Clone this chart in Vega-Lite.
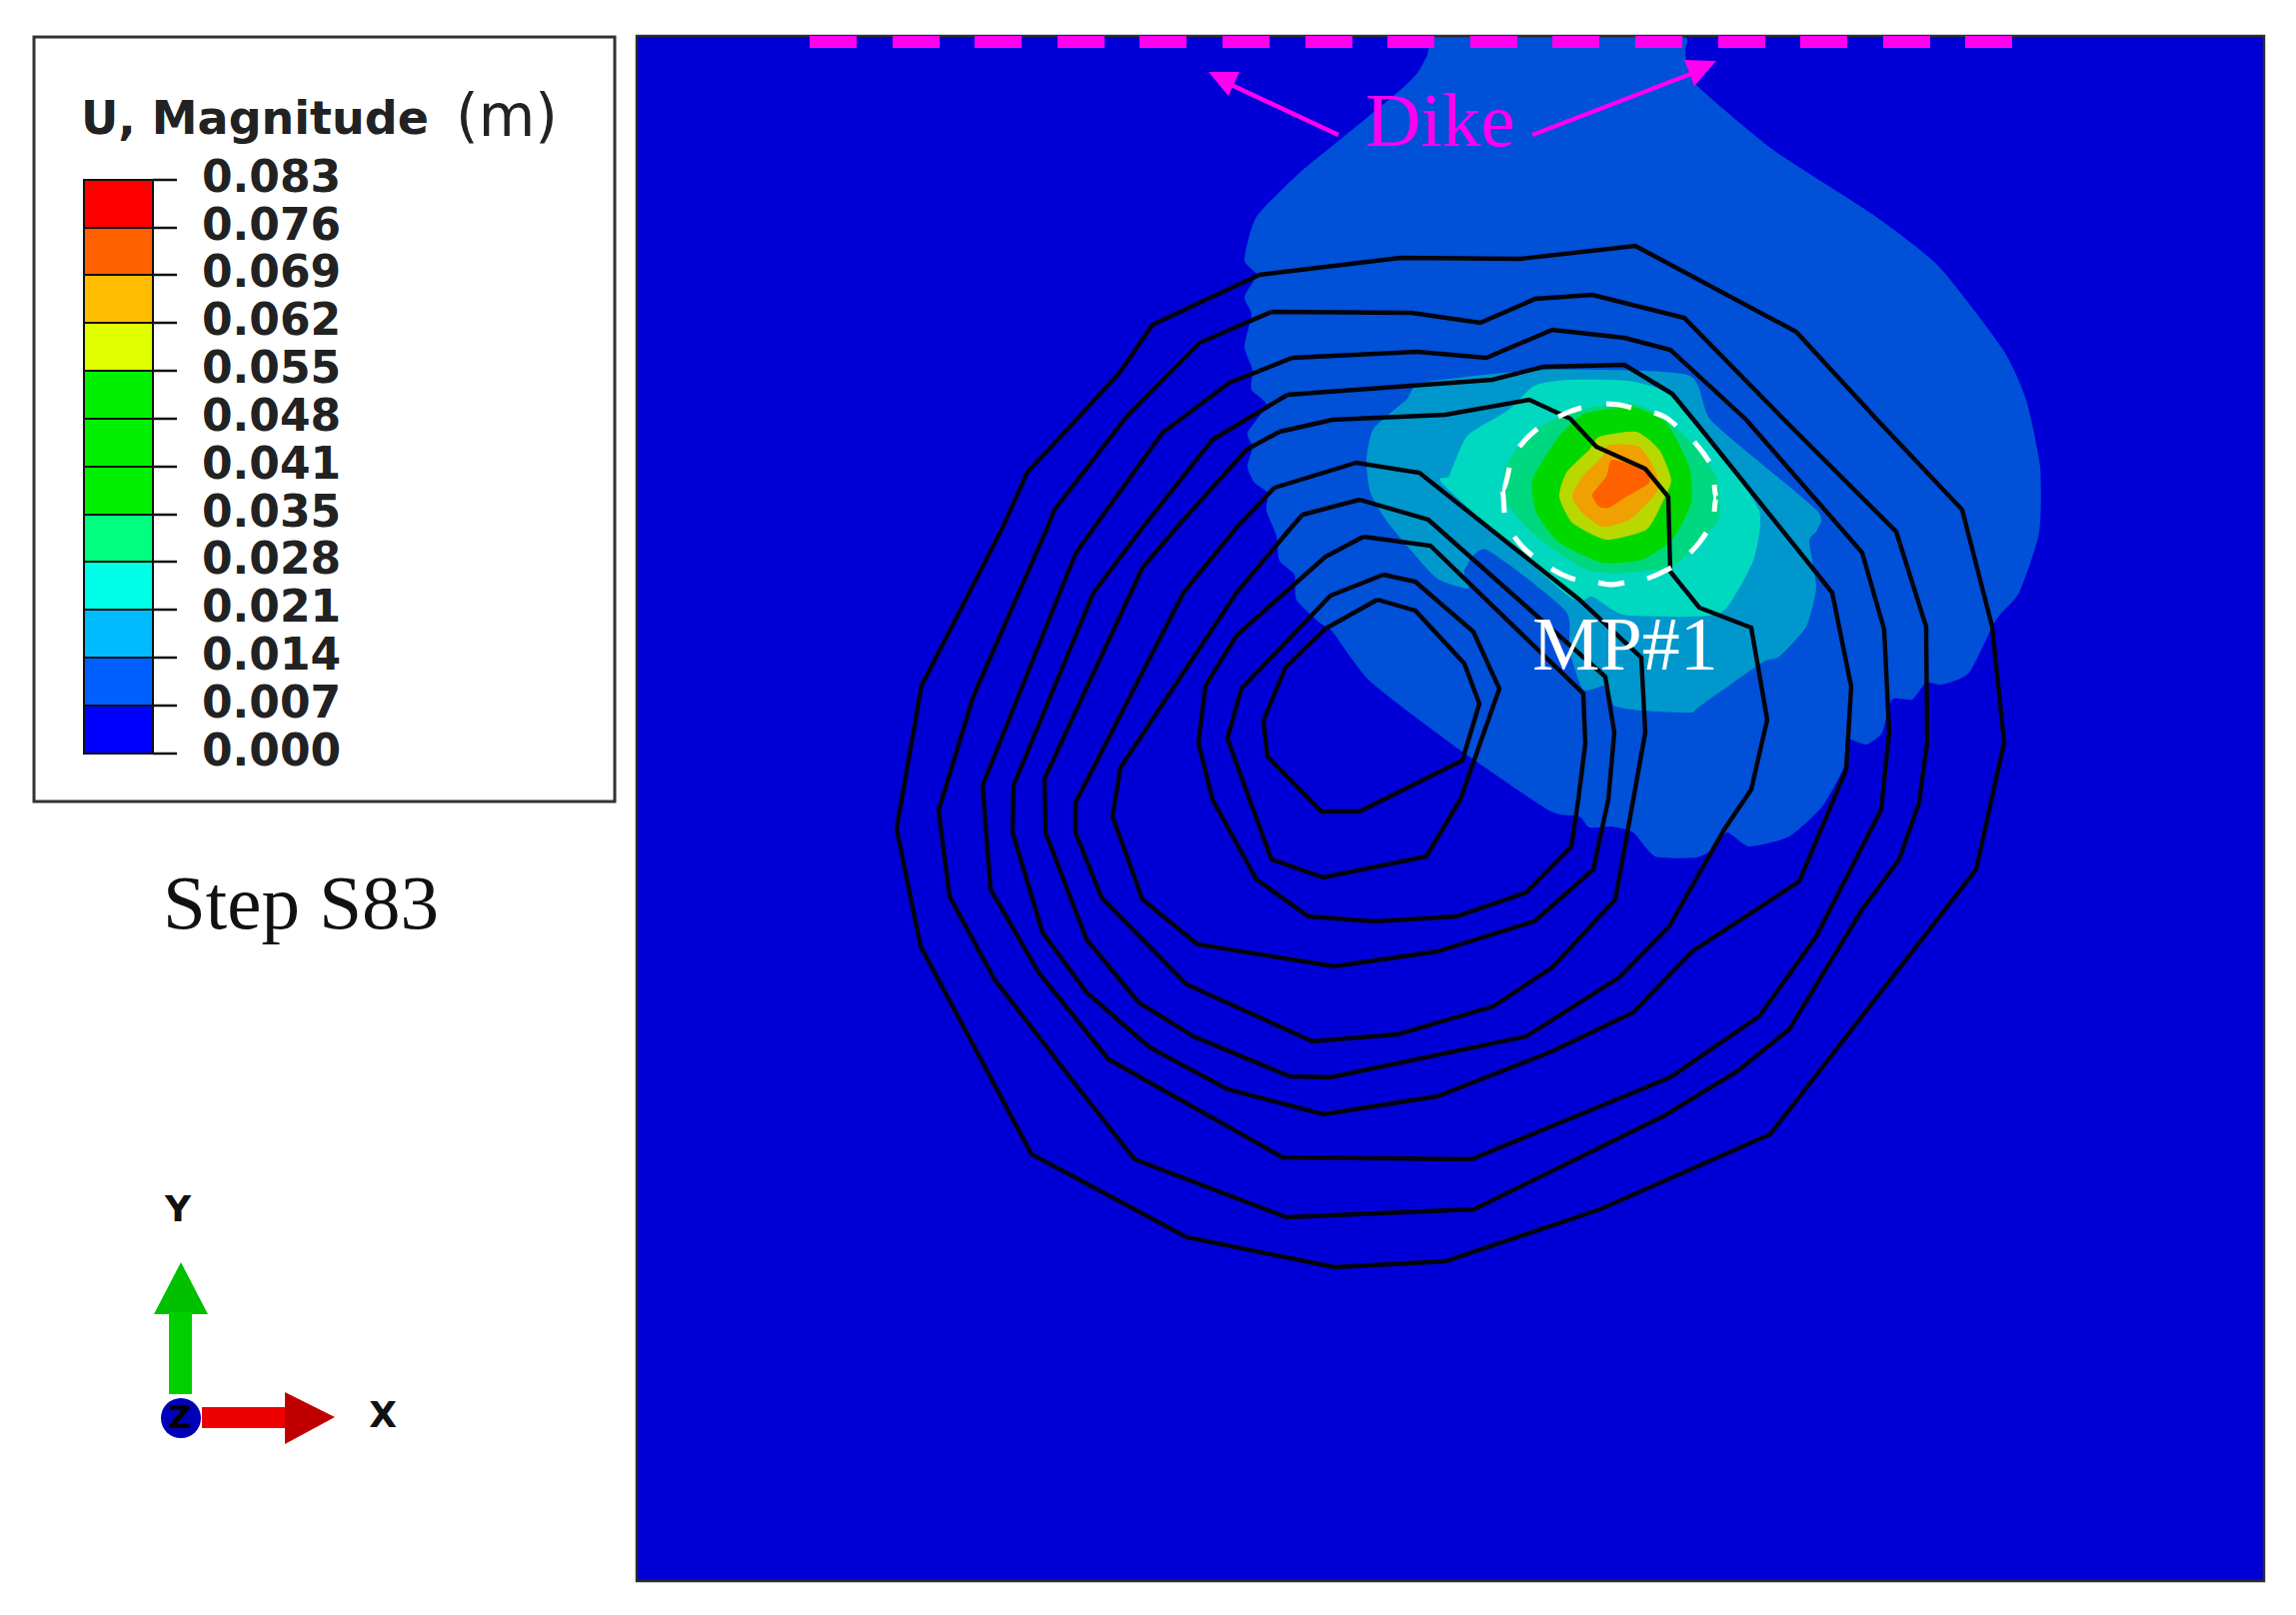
{
"$schema":"https://vega.github.io/schema/vega-lite/v6.json",
"width":2297,"height":1616,"autosize":{"type":"none"},"padding":0,"background":"#ffffff",
"config":{"view":{"stroke":null}},
"datasets":{
"frame":[{"x":637,"x2":2265,"y":36,"y2":1582}],
"legendbox":[{"x":34,"x2":615,"y":37,"y2":802}],
"regions":[
{"level":"0.007","pts":[[1435,37],[1428,55],[1418,73],[1401,90],[1344,137],[1300,173],[1257,217],[1245,260],[1257,275],[1245,297],[1252,315],[1245,347],[1253,370],[1252,390],[1267,405],[1248,433],[1253,447],[1248,467],[1255,483],[1268,493],[1267,511],[1277,536],[1280,561],[1295,575],[1297,600],[1320,623],[1333,632],[1371,682],[1460,750],[1550,811],[1580,817],[1590,828],[1612,827],[1634,833],[1656,857],[1697,858],[1713,850],[1728,833],[1750,847],[1790,837],[1823,807],[1845,767],[1847,740],[1867,745],[1883,733],[1893,700],[1913,700],[1927,683],[1943,685],[1970,673],[1997,620],[2020,593],[2040,533],[2041,467],[2027,400],[2004,350],[1940,267],[1877,217],[1774,150],[1699,87],[1688,67],[1686,50],[1685,37],[1620,37],[1560,37],[1500,37]]},
{"level":"0.014","pts":[[1407,400],[1424,383],[1544,370],[1688,375],[1713,422],[1817,510],[1818,530],[1810,542],[1817,587],[1807,627],[1780,657],[1763,663],[1700,707],[1691,713],[1642,711],[1615,706],[1608,686],[1584,690],[1570,650],[1566,611],[1487,550],[1465,571],[1469,589],[1438,579],[1411,550],[1387,521],[1371,493],[1367,461],[1374,429]]},
{"level":"0.021","pts":[[1535,386],[1570,380],[1629,381],[1669,394],[1718,450],[1760,511],[1754,561],[1725,611],[1691,617],[1624,615],[1593,597],[1570,597],[1445,486],[1450,476],[1468,436],[1508,411]]},
{"level":"0.028","pts":[[1593,407],[1630,403],[1660,415],[1693,443],[1717,477],[1720,517],[1700,543],[1673,567],[1627,573],[1587,570],[1537,537],[1507,503],[1505,470],[1527,437],[1560,417]]},
{"level":"0.035","pts":[[1587,413],[1633,407],[1667,423],[1690,467],[1692,503],[1673,540],[1643,560],[1603,563],[1560,543],[1537,513],[1533,480],[1557,440],[1573,423]]},
{"level":"0.055","pts":[[1600,437],[1637,432],[1660,450],[1672,480],[1663,503],[1647,530],[1607,540],[1573,523],[1560,497],[1567,473],[1590,450]]},
{"level":"0.062","pts":[[1610,445],[1640,447],[1657,473],[1657,493],[1630,520],[1603,527],[1583,513],[1573,497],[1583,477],[1603,457]]},
{"level":"0.076","pts":[[1613,460],[1645,470],[1650,483],[1627,497],[1610,508],[1600,507],[1593,495],[1607,477]]}
],
"shapes":[
{"part":"dike1","color":"magenta","pts":[[1209,72],[1240,72],[1229,96]]},
{"part":"dike2","color":"magenta","pts":[[1717,61],[1685,60],[1695,86]]},
{"part":"yhead","color":"green","pts":[[181,1263],[154,1315],[208,1315]]},
{"part":"xhead","color":"darkred","pts":[[285,1393],[285,1445],[335,1418]]}
],
"blocks":[
{"x":169,"x2":192,"y":1313,"y2":1395,"color":"green2"},
{"x":202,"x2":285,"y":1408,"y2":1429,"color":"red"}
],
"contours":[
{"id":"c01","pts":[[1260,275],[1401,258],[1521,259],[1636,246],[1797,332],[1878,420],[1963,510],[1993,627],[2005,743],[1977,870],[1771,1135],[1601,1210],[1446,1262],[1335,1268],[1187,1238],[1032,1155],[921,947],[897,829],[922,686],[1003,528],[1028,472],[1047,452],[1120,373],[1153,325],[1260,275]]},
{"id":"c02","pts":[[1272,312],[1412,313],[1481,323],[1536,299],[1593,295],[1685,318],[1785,420],[1897,532],[1927,627],[1928,743],[1920,803],[1900,860],[1863,910],[1790,1030],[1738,1072],[1664,1117],[1475,1210],[1287,1218],[1135,1160],[1072,1080],[995,980],[950,897],[939,811],[974,696],[1047,530],[1055,510],[1127,417],[1200,343],[1272,312]]},
{"id":"c03","pts":[[1293,358],[1418,352],[1487,358],[1553,330],[1625,338],[1671,350],[1747,420],[1863,553],[1885,630],[1890,733],[1882,810],[1817,937],[1760,1017],[1671,1078],[1472,1160],[1283,1158],[1109,1060],[1039,973],[991,890],[983,786],[1076,554],[1093,530],[1163,433],[1230,383],[1293,358]]},
{"id":"c04","pts":[[1288,395],[1493,380],[1544,367],[1625,365],[1673,394],[1700,427],[1833,593],[1852,687],[1847,770],[1800,882],[1693,952],[1634,1013],[1553,1052],[1438,1097],[1324,1115],[1228,1090],[1150,1048],[1087,993],[1043,933],[1013,833],[1014,786],[1094,593],[1143,528],[1213,440],[1288,395]]},
{"id":"c05","pts":[[1280,432],[1333,420],[1446,415],[1530,400],[1571,419],[1597,447],[1646,469],[1669,497],[1671,572],[1700,608],[1752,628],[1768,720],[1752,790],[1725,830],[1670,927],[1620,978],[1527,1037],[1331,1078],[1290,1077],[1194,1037],[1139,1003],[1087,940],[1046,833],[1045,779],[1143,568],[1177,528],[1247,450],[1280,432]]},
{"id":"c06","pts":[[1275,488],[1357,463],[1420,473],[1580,600],[1642,658],[1646,733],[1634,800],[1616,900],[1553,968],[1494,1007],[1398,1035],[1313,1042],[1187,985],[1102,898],[1076,833],[1076,803],[1184,593],[1237,528],[1275,488]]},
{"id":"c07","pts":[[1303,515],[1360,500],[1429,520],[1606,677],[1615,733],[1609,800],[1594,870],[1535,922],[1438,952],[1335,967],[1198,945],[1143,900],[1113,817],[1121,768],[1237,593],[1290,530],[1303,515]]},
{"id":"c08","pts":[[1364,537],[1431,546],[1584,694],[1586,744],[1579,800],[1572,847],[1527,893],[1457,917],[1376,922],[1309,917],[1257,880],[1213,800],[1199,743],[1206,686],[1237,636],[1326,557],[1364,537]]},
{"id":"c09","pts":[[1384,575],[1416,582],[1474,632],[1500,689],[1461,800],[1427,857],[1324,878],[1272,860],[1228,739],[1242,689],[1331,596],[1384,575]]},
{"id":"c10","pts":[[1378,600],[1416,611],[1465,664],[1480,704],[1463,761],[1360,812],[1322,812],[1268,757],[1264,721],[1286,668],[1326,629],[1378,600]]}
],
"circle":[
{"id":"d01","pts":[[1505,513],[1503,490],[1510,468]]},
{"id":"d02","pts":[[1520,447],[1528,438],[1538,429]]},
{"id":"d03","pts":[[1559,417],[1570,412],[1582,408]]},
{"id":"d04","pts":[[1607,404],[1620,405],[1632,408]]},
{"id":"d05","pts":[[1655,413],[1667,418],[1677,426]]},
{"id":"d06","pts":[[1695,442],[1703,452],[1710,462]]},
{"id":"d07","pts":[[1715,485],[1717,498],[1715,512]]},
{"id":"d08","pts":[[1707,533],[1700,543],[1691,553]]},
{"id":"d09","pts":[[1672,568],[1660,574],[1648,579]]},
{"id":"d10","pts":[[1625,583],[1612,585],[1599,583]]},
{"id":"d11","pts":[[1576,580],[1563,575],[1552,569]]},
{"id":"d12","pts":[[1533,556],[1523,547],[1515,537]]}
],
"shafts":[
{"id":"a1","pts":[[1339,135],[1232,85]]},
{"id":"a2","pts":[[1533,135],[1694,73]]}
],
"dike":[
{"x":810,"x2":857},{"x":893,"x2":940},{"x":975,"x2":1022},{"x":1058,"x2":1105},{"x":1140,"x2":1187},{"x":1223,"x2":1270},{"x":1306,"x2":1353},{"x":1388,"x2":1435},{"x":1471,"x2":1518},{"x":1553,"x2":1600},{"x":1636,"x2":1683},{"x":1719,"x2":1766},{"x":1801,"x2":1848},{"x":1884,"x2":1931},{"x":1966,"x2":2013}
],
"bar":[
{"label":"0.083","y":180,"y2":228,"band":"0.076-0.083"},
{"label":"0.076","y":228,"y2":275,"band":"0.069-0.076"},
{"label":"0.069","y":275,"y2":323,"band":"0.062-0.069"},
{"label":"0.062","y":323,"y2":371,"band":"0.055-0.062"},
{"label":"0.055","y":371,"y2":419,"band":"0.048-0.055"},
{"label":"0.048","y":419,"y2":467,"band":"0.041-0.048"},
{"label":"0.041","y":467,"y2":515,"band":"0.035-0.041"},
{"label":"0.035","y":515,"y2":562,"band":"0.028-0.035"},
{"label":"0.028","y":562,"y2":610,"band":"0.021-0.028"},
{"label":"0.021","y":610,"y2":658,"band":"0.014-0.021"},
{"label":"0.014","y":658,"y2":706,"band":"0.007-0.014"},
{"label":"0.007","y":706,"y2":754,"band":"0.000-0.007"},
{"label":"0.000","y":754,"y2":754,"band":"none"}
]
},
"layer":[
{"data":{"name":"frame"},"mark":{"type":"rect","fill":"#0000D6","stroke":null},
 "encoding":{"x":{"field":"x","type":"quantitative","scale":{"domain":[0,2297],"range":[0,2297],"nice":false,"zero":false},"axis":null},"x2":{"field":"x2"},"y":{"field":"y","type":"quantitative","scale":{"domain":[1616,0],"nice":false,"zero":false},"axis":null},"y2":{"field":"y2"}}},
{"data":{"name":"regions"},"transform":[{"flatten":["pts"]},{"calculate":"datum.pts[0]","as":"x"},{"calculate":"datum.pts[1]","as":"y"},{"window":[{"op":"row_number","as":"k"}]}],
 "mark":{"type":"line","strokeWidth":0,"interpolate":"cardinal-closed","tension":0.4},
 "encoding":{"x":{"field":"x","type":"quantitative","axis":null},"y":{"field":"y","type":"quantitative","axis":null},"order":{"field":"k","type":"quantitative"},
  "fill":{"field":"level","type":"nominal","legend":null,"scale":{"domain":["0.007","0.014","0.021","0.028","0.035","0.055","0.062","0.076"],"range":["#0050D8","#0098CC","#00D8C0","#00D880","#00D800","#B8D800","#F0A000","#FF6000"]}}}},
{"data":{"name":"contours"},"transform":[{"flatten":["pts"]},{"calculate":"datum.pts[0]","as":"x"},{"calculate":"datum.pts[1]","as":"y"},{"window":[{"op":"row_number","as":"k"}]}],
 "mark":{"type":"line","stroke":"#04040c","strokeWidth":4.4,"strokeJoin":"miter"},
 "encoding":{"x":{"field":"x","type":"quantitative","axis":null},"y":{"field":"y","type":"quantitative","axis":null},"order":{"field":"k","type":"quantitative"},"detail":{"field":"id"}}},
{"data":{"name":"circle"},"transform":[{"flatten":["pts"]},{"calculate":"datum.pts[0]","as":"x"},{"calculate":"datum.pts[1]","as":"y"},{"window":[{"op":"row_number","as":"k"}]}],
 "mark":{"type":"line","stroke":"#ffffff","strokeWidth":5,"interpolate":"monotone"},
 "encoding":{"x":{"field":"x","type":"quantitative","axis":null},"y":{"field":"y","type":"quantitative","axis":null},"order":{"field":"k","type":"quantitative"},"detail":{"field":"id"}}},
{"data":{"name":"frame"},"mark":{"type":"rect","fill":null,"fillOpacity":0,"stroke":"#2a2a30","strokeWidth":2.5},
 "encoding":{"x":{"field":"x","type":"quantitative","axis":null},"x2":{"field":"x2"},"y":{"field":"y","type":"quantitative","axis":null},"y2":{"field":"y2"}}},
{"data":{"name":"dike"},"mark":{"type":"rect","fill":"#FF00F0"},
 "encoding":{"x":{"field":"x","type":"quantitative","axis":null},"x2":{"field":"x2"},"y":{"datum":36,"type":"quantitative","axis":null},"y2":{"datum":48}}},
{"data":{"name":"shafts"},"transform":[{"flatten":["pts"]},{"calculate":"datum.pts[0]","as":"x"},{"calculate":"datum.pts[1]","as":"y"},{"window":[{"op":"row_number","as":"k"}]}],
 "mark":{"type":"line","stroke":"#FF00F0","strokeWidth":4.5},
 "encoding":{"x":{"field":"x","type":"quantitative","axis":null},"y":{"field":"y","type":"quantitative","axis":null},"order":{"field":"k","type":"quantitative"},"detail":{"field":"id"}}},
{"data":{"name":"shapes"},"transform":[{"flatten":["pts"]},{"calculate":"datum.pts[0]","as":"x"},{"calculate":"datum.pts[1]","as":"y"},{"window":[{"op":"row_number","as":"k"}]}],
 "mark":{"type":"line","strokeWidth":0,"interpolate":"linear-closed"},
 "encoding":{"x":{"field":"x","type":"quantitative","axis":null},"y":{"field":"y","type":"quantitative","axis":null},"order":{"field":"k","type":"quantitative"},"detail":{"field":"part"},
  "fill":{"field":"color","type":"nominal","legend":null,"scale":{"domain":["magenta","green","darkred"],"range":["#FF00F0","#00C000","#C00000"]}}}},
{"data":{"values":[{"t":"Dike","x":1366,"y":146}]},"mark":{"type":"text","font":"Liberation Serif","fontSize":77,"color":"#FF00F0","align":"left","baseline":"alphabetic"},
 "encoding":{"x":{"field":"x","type":"quantitative","axis":null},"y":{"field":"y","type":"quantitative","axis":null},"text":{"field":"t"}}},
{"data":{"values":[{"t":"MP#1","x":1533,"y":670}]},"mark":{"type":"text","font":"Liberation Serif","fontSize":76,"color":"#ffffff","align":"left","baseline":"alphabetic"},
 "encoding":{"x":{"field":"x","type":"quantitative","axis":null},"y":{"field":"y","type":"quantitative","axis":null},"text":{"field":"t"}}},
{"data":{"values":[{"t":"Step S83","x":163,"y":929}]},"mark":{"type":"text","font":"Liberation Serif","fontSize":77,"color":"#111111","align":"left","baseline":"alphabetic"},
 "encoding":{"x":{"field":"x","type":"quantitative","axis":null},"y":{"field":"y","type":"quantitative","axis":null},"text":{"field":"t"}}},
{"data":{"name":"legendbox"},"mark":{"type":"rect","fill":"#ffffff","stroke":"#333333","strokeWidth":3},
 "encoding":{"x":{"field":"x","type":"quantitative","axis":null},"x2":{"field":"x2"},"y":{"field":"y","type":"quantitative","axis":null},"y2":{"field":"y2"}}},
{"data":{"name":"bar"},"transform":[{"filter":"datum.band!='none'"}],"mark":{"type":"rect","stroke":"#111111","strokeWidth":2},
 "encoding":{"x":{"datum":84,"type":"quantitative","axis":null},"x2":{"datum":153},"y":{"field":"y","type":"quantitative","axis":null},"y2":{"field":"y2"},
  "fill":{"field":"band","type":"nominal","legend":null,"scale":{"domain":["0.076-0.083","0.069-0.076","0.062-0.069","0.055-0.062","0.048-0.055","0.041-0.048","0.035-0.041","0.028-0.035","0.021-0.028","0.014-0.021","0.007-0.014","0.000-0.007"],"range":["#FF0000","#FF6000","#FFBC00","#E0FF00","#00F000","#00F000","#00F000","#00FF80","#00FFE8","#00BCFF","#0060FF","#0000FF"]}}}},
{"data":{"name":"bar"},"mark":{"type":"rule","stroke":"#111111","strokeWidth":2.5},
 "encoding":{"x":{"datum":153,"type":"quantitative","axis":null},"x2":{"datum":177},"y":{"field":"y","type":"quantitative","axis":null}}},
{"data":{"name":"bar"},"mark":{"type":"text","font":"DejaVu Sans","fontWeight":"bold","fontSize":44,"color":"#222222","align":"left","baseline":"middle","dy":-1},
 "encoding":{"x":{"datum":202,"type":"quantitative","axis":null},"y":{"field":"y","type":"quantitative","axis":null},"text":{"field":"label"}}},
{"data":{"values":[{"t":"U, Magnitude","x":81,"y":134}]},"mark":{"type":"text","font":"DejaVu Sans","fontWeight":"bold","fontSize":46,"color":"#222222","align":"left","baseline":"alphabetic"},
 "encoding":{"x":{"field":"x","type":"quantitative","axis":null},"y":{"field":"y","type":"quantitative","axis":null},"text":{"field":"t"}}},
{"data":{"values":[{"t":"(m)","x":456,"y":136}]},"mark":{"type":"text","font":"DejaVu Sans","fontSize":58,"color":"#222222","align":"left","baseline":"alphabetic"},
 "encoding":{"x":{"field":"x","type":"quantitative","axis":null},"y":{"field":"y","type":"quantitative","axis":null},"text":{"field":"t"}}},
{"data":{"name":"blocks"},"mark":{"type":"rect","strokeWidth":0},
 "encoding":{"x":{"field":"x","type":"quantitative","axis":null},"x2":{"field":"x2"},"y":{"field":"y","type":"quantitative","axis":null},"y2":{"field":"y2"},
  "fill":{"field":"color","type":"nominal","legend":null,"scale":{"domain":["green2","red"],"range":["#00D000","#EE0000"]}}}},
{"data":{"values":[{"x":181,"y":1419}]},"mark":{"type":"point","filled":true,"fill":"#0000B8","size":1600,"opacity":1,"shape":"circle"},
 "encoding":{"x":{"field":"x","type":"quantitative","axis":null},"y":{"field":"y","type":"quantitative","axis":null}}},
{"data":{"values":[{"t":"Z","x":180,"y":1419}]},"mark":{"type":"text","font":"DejaVu Sans","fontWeight":"bold","fontSize":32,"color":"#000000","align":"center","baseline":"middle"},
 "encoding":{"x":{"field":"x","type":"quantitative","axis":null},"y":{"field":"y","type":"quantitative","axis":null},"text":{"field":"t"}}},
{"data":{"values":[{"t":"Y","x":178,"y":1211},{"t":"X","x":383,"y":1417}]},"mark":{"type":"text","font":"DejaVu Sans","fontWeight":"bold","fontSize":36,"color":"#111111","align":"center","baseline":"middle"},
 "encoding":{"x":{"field":"x","type":"quantitative","axis":null},"y":{"field":"y","type":"quantitative","axis":null},"text":{"field":"t"}}}
],
"resolve":{"scale":{"fill":"independent"}}
}
